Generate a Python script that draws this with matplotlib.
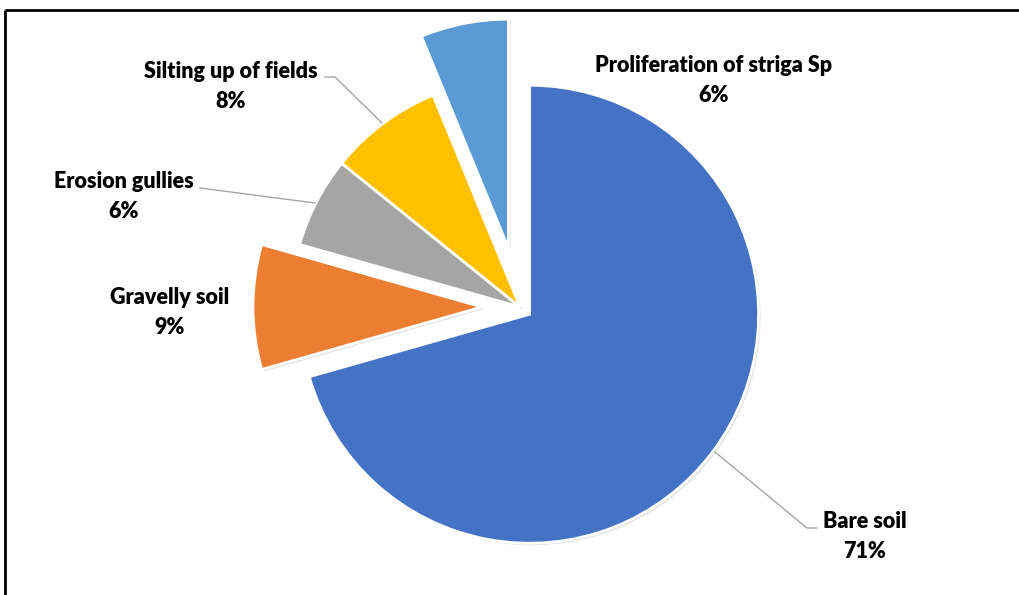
import matplotlib.pyplot as plt
import matplotlib.patheffects as pe

# slice data, clockwise from 12 o'clock
labels = ['Bare soil', 'Gravelly soil', 'Erosion gullies',
          'Silting up of fields', 'Proliferation of striga Sp']
shares = [70.6, 8.8, 6.4, 8.0, 6.2]
colors = ['#4472C4', '#ED7D31', '#A5A5A5', '#FFC000', '#5B9BD5']
explode = [12, 38, 0, 0, 60]   # px offsets

W, H = 1019, 595
fig = plt.figure(figsize=(W / 100, H / 100), dpi=100)
ax = fig.add_axes([0, 0, 1, 1])

cx, cy = 520, H - 307
R = 229

wedges, _ = ax.pie(shares, colors=colors, explode=explode, startangle=90,
                   counterclock=False, radius=R, center=(cx, cy),
                   wedgeprops=dict(edgecolor='white', linewidth=2))
for w in wedges:
    w.set_path_effects([pe.SimplePatchShadow(offset=(1.5, -1.5),
                                             shadow_rgbFace='#888888', alpha=0.25),
                        pe.Normal()])

ax.set_xlim(0, W)
ax.set_ylim(0, H)
ax.set_aspect('equal')
ax.axis('off')

# labels (image coords: x, y of first line centre)
lab_pos = [(865, 522), (170, 297), (124, 182), (231, 71), (714, 65)]
total = sum(shares)
font = dict(fontsize=15.5, fontweight='heavy', family=['Lato', 'DejaVu Sans'],
            color='black', ha='center', va='center')
for name, v, (lx, ly) in zip(labels, shares, lab_pos):
    ax.text(lx, H - ly, name, **font)
    ax.text(lx, H - ly - 30, f'{round(v / total * 100)}%', **font)

# leader lines
leaders = [
    [(817, 528), (807, 528), (715, 452)],
    [(200, 188), (315, 203)],
    [(325, 77), (335, 77), (382, 123)],
]
for pts in leaders:
    ax.plot([p[0] for p in pts], [H - p[1] for p in pts], color='#A6A6A6', lw=1)

# outer frame (top and left visible)
ax.plot([5, W], [H - 10, H - 10], color='black', lw=2, solid_capstyle='butt')
ax.plot([5, 5], [H - 10, 0], color='black', lw=2, solid_capstyle='butt')

fig.savefig('out.png', dpi=100)
